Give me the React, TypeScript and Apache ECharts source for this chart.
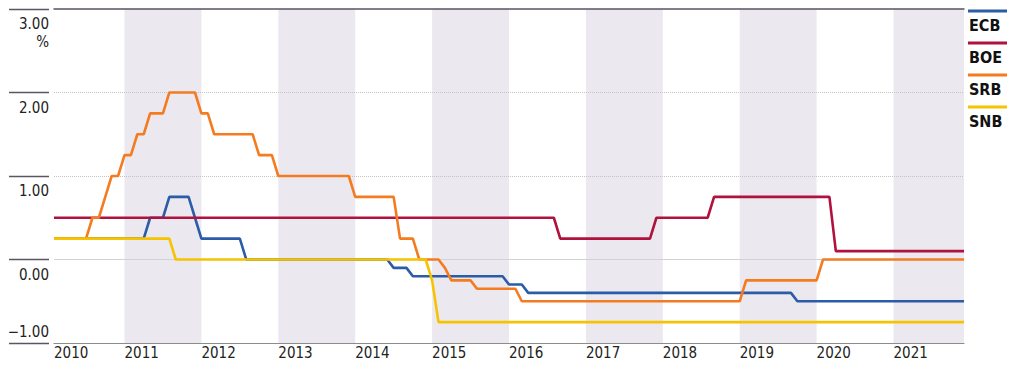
import React, { useEffect, useRef } from "react";
import * as echarts from "echarts";

// ---- data (month-end policy rates, change points) ----
const ecbDates = ["2010-01", "2011-04", "2011-07", "2011-11", "2011-12", "2012-07", "2014-06", "2014-09", "2015-12", "2016-03", "2019-09"];
const ecbRates = [0.25, 0.5, 0.75, 0.5, 0.25, 0, -0.1, -0.2, -0.3, -0.4, -0.5];

const boeDates = ["2010-01", "2016-08", "2017-11", "2018-08", "2020-03"];
const boeRates = [0.5, 0.25, 0.5, 0.75, 0.1];

const srbDates = ["2010-01", "2010-07", "2010-09", "2010-10", "2010-12", "2011-02", "2011-04", "2011-07", "2011-12", "2012-02", "2012-09", "2012-12", "2013-12", "2014-07", "2014-10", "2015-02", "2015-03", "2015-07", "2016-02", "2019-01", "2020-01"];
const srbRates = [0.25, 0.5, 0.75, 1.0, 1.25, 1.5, 1.75, 2.0, 1.75, 1.5, 1.25, 1.0, 0.75, 0.25, 0, -0.1, -0.25, -0.35, -0.5, -0.25, 0];

const snbDates = ["2010-01", "2011-08", "2014-12", "2015-01"];
const snbRates = [0.25, 0, -0.25, -0.75];

const firstMonth = "2010-01";
const lastMonth = "2021-11";

const seriesNames = ["ECB", "BOE", "SRB", "SNB"];
const seriesColors = ["#2b5ca8", "#b0123e", "#f47b20", "#f5c300"];

const bandYears = [2011, 2013, 2015, 2017, 2019, 2021];
const yearLabels = [2010, 2011, 2012, 2013, 2014, 2015, 2016, 2017, 2018, 2019, 2020, 2021];
const yLabelValues = [0, 1, 2, 3];
const gridValues = [0, 1, 2];

// ---- helpers ----
const monthEnd = (s: string) => {
  const [y, m] = s.split("-").map(Number);
  return y + m / 12;
};
const X_MIN = monthEnd(firstMonth);
const X_MAX = monthEnd(lastMonth);

function stepPoints(dates: string[], rates: number[]) {
  const pts: number[][] = [];
  dates.forEach((d, i) => {
    const x = monthEnd(d);
    if (i > 0) pts.push([x - 1 / 12, rates[i - 1]]);
    pts.push([x, rates[i]]);
  });
  pts.push([X_MAX, rates[rates.length - 1]]);
  return pts;
}

const FONT = "'DejaVu Sans Condensed', 'Liberation Sans Narrow', sans-serif";

export default function App() {
  const ref = useRef<HTMLDivElement>(null);

  useEffect(() => {
    if (!ref.current) return;
    const chart = echarts.init(ref.current, null, { renderer: "svg" });

    const data = [
      stepPoints(ecbDates, ecbRates),
      stepPoints(boeDates, boeRates),
      stepPoints(srbDates, srbRates),
      stepPoints(snbDates, snbRates),
    ];

    const xTicks = yearLabels.map((y) => (y === 2010 ? X_MIN : y));

    const series: any[] = seriesNames.map((name, i) => ({
      type: "line",
      name,
      data: data[i],
      showSymbol: false,
      symbol: "none",
      lineStyle: { width: 2.6, color: seriesColors[i] },
      itemStyle: { color: seriesColors[i] },
      z: 10,
    }));

    // background bands + gridlines
    series.unshift({
      type: "line",
      name: "bg",
      data: [],
      silent: true,
      z: 1,
      markArea: {
        silent: true,
        z: 0,
        itemStyle: { color: "#ebe8ef" },
        data: bandYears.map((y) => [{ xAxis: y }, { xAxis: Math.min(y + 1, X_MAX) }]),
      },
      markLine: {
        silent: true,
        z: 1,
        symbol: "none",
        label: { show: false },
        data: gridValues.map((v) => ({
          yAxis: v,
          lineStyle: v === 0
            ? { color: "#d2d2d2", width: 1, type: "solid" }
            : { color: "#c4c4c4", width: 1, type: "dotted" },
        })),
      },
    });

    const legendGraphics: any[] = [];
    seriesNames.forEach((name, i) => {
      const ly = 11 + i * 32;
      legendGraphics.push({
        type: "line",
        shape: { x1: 968, y1: ly, x2: 1007, y2: ly },
        style: { stroke: seriesColors[i], lineWidth: 3 },
      });
      legendGraphics.push({
        type: "text",
        x: 969,
        y: ly + 14,
        style: {
          text: name,
          fill: "#111",
          fontSize: 16,
          fontWeight: "bold",
          fontFamily: FONT,
          verticalAlign: "middle",
          align: "left",
        },
      });
    });

    const option: any = {
      animation: false,
      grid: { left: 54, right: 56, top: 9, bottom: 33 },
      xAxis: [
        {
          type: "value",
          min: X_MIN,
          max: X_MAX,
          axisLine: { show: true, onZero: false, lineStyle: { color: "#8c8c8c", width: 1.2 } },
          axisTick: { show: false },
          splitLine: { show: false },
          axisLabel: {
            customValues: xTicks,
            formatter: (v: number) => String(Math.floor(v + 1e-6)),
            align: "left",
            margin: 2,
            fontSize: 15,
            color: "#222",
            fontFamily: FONT,
          },
        },
        {
          type: "value",
          position: "top",
          min: X_MIN,
          max: X_MAX,
          axisLine: { show: true, onZero: false, lineStyle: { color: "#5b5063", width: 1.5 } },
          axisTick: { show: false },
          axisLabel: { show: false },
          splitLine: { show: false },
        },
      ],
      yAxis: [
        {
          type: "value",
          min: -1,
          max: 3,
          interval: 1,
          position: "left",
          offset: 5,
          axisLine: { show: false },
          axisTick: {
            show: true,
            length: 40,
            lineStyle: { color: "#5b5563", width: 1.3 },
            customValues: [-1, 0, 1, 2, 3],
          },
          splitLine: { show: false },
          axisLabel: {
            customValues: yLabelValues,
            formatter: (v: number) => (v === 3 ? "3.00\n%" : v.toFixed(2)),
            verticalAlign: "top",
            align: "right",
            margin: 0,
            padding: [6, 0, 0, 0],
            lineHeight: 18,
            fontSize: 15,
            color: "#222",
            fontFamily: FONT,
          },
        },
        {
          type: "value",
          min: -1,
          max: 3,
          interval: 1,
          position: "left",
          offset: 5,
          axisLine: { show: false },
          axisTick: { show: false },
          splitLine: { show: false },
          axisLabel: {
            customValues: [-1],
            formatter: (v: number) => "\u2212" + Math.abs(v).toFixed(2),
            verticalAlign: "bottom",
            align: "right",
            margin: 0,
            padding: [0, 0, 4, 0],
            fontSize: 15,
            color: "#222",
            fontFamily: FONT,
          },
        },
      ],
      graphic: legendGraphics,
      series,
    };

    chart.setOption(option);
    return () => chart.dispose();
  }, []);

  return (
    <div
      ref={ref}
      style={{ position: "fixed", left: 0, top: 0, width: 1020, height: 376, background: "#fff" }}
    />
  );
}
